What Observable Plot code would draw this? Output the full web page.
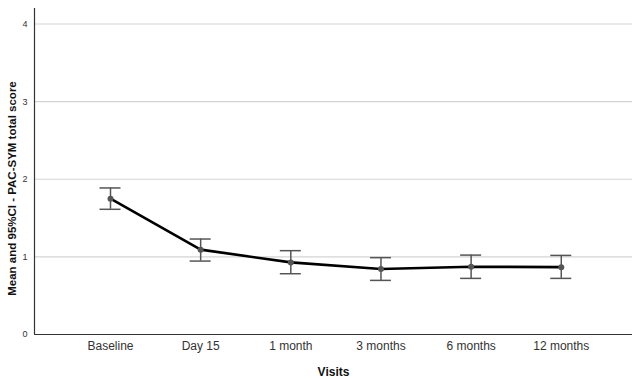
<!DOCTYPE html>
<html><head><meta charset="utf-8">
<script src="https://cdn.jsdelivr.net/npm/d3@7"></script>
<script src="https://cdn.jsdelivr.net/npm/@observablehq/plot@0.6"></script>
<style>body{margin:0;background:#fff;font-family:"Liberation Sans",Arial,sans-serif}</style>
</head><body><div id="chart"></div>
<script>
const visits = ["Baseline","Day 15","1 month","3 months","6 months","12 months"];
const means = [1.75, 1.093, 0.929, 0.843, 0.873, 0.868];
const lower = [1.613, 0.946, 0.783, 0.697, 0.723, 0.723];
const upper = [1.888, 1.23, 1.08, 0.99, 1.023, 1.019];
const yTicks = [0,1,2,3,4];
const gridValues = [1,2,3,4];
const yLabel = "Mean and 95%CI - PAC-SYM total score";
const xLabel = "Visits";

const data = visits.map((v,i)=>({i, v, m: means[i], lo: lower[i], hi: upper[i]}));
const xDomain = [-0.843, 5.79];

const chart = Plot.plot({
  width: 632, height: 379,
  marginLeft: 34, marginRight: 0, marginTop: 8, marginBottom: 45,
  style: {fontFamily: "'Liberation Sans', Arial, sans-serif", background: "#fff"},
  x: {type: "linear", domain: xDomain, axis: null},
  y: {type: "linear", domain: [0, 4.2], axis: null},
  marks: [
    Plot.ruleY(gridValues, {stroke: "#d4d4d4", strokeWidth: 1.2}),
    Plot.ruleY([0], {stroke: "#333", strokeWidth: 1.2}),
    Plot.ruleX([xDomain[0]], {stroke: "#333", strokeWidth: 1.2}),
    Plot.axisY(yTicks, {tickSize: 0, tickPadding: 7, fontSize: 9, fill: "#333", label: null, tickFormat: d => String(d)}),
    Plot.axisX(visits.map((v,i)=>i), {tickSize: 0, tickPadding: 7, fontSize: 12, fill: "#333", tickFormat: i => visits[i], label: null}),
    Plot.ruleX(data, {x: "i", y1: "lo", y2: "hi", stroke: "#555", strokeWidth: 1.5}),
    Plot.ruleY(data, {x1: "i", x2: "i", y: "lo", stroke: "#555", strokeWidth: 1.5, insetLeft: -10.5, insetRight: -10.5}),
    Plot.ruleY(data, {x1: "i", x2: "i", y: "hi", stroke: "#555", strokeWidth: 1.5, insetLeft: -10.5, insetRight: -10.5}),
    Plot.line(data, {x: "i", y: "m", stroke: "#000", strokeWidth: 2.6}),
    Plot.dot(data, {x: "i", y: "m", r: 3, fill: "#555", stroke: null}),
    Plot.text([yLabel], {frameAnchor: "left", textAnchor: "middle", rotate: -90, dx: -22, dy: 17, fontSize: 11.5, fontWeight: "bold", fill: "#111"}),
    Plot.text([xLabel], {frameAnchor: "bottom", dy: 41, fontSize: 12, fontWeight: "bold", fill: "#111"})
  ]
});
document.getElementById("chart").append(chart);
</script></body></html>
